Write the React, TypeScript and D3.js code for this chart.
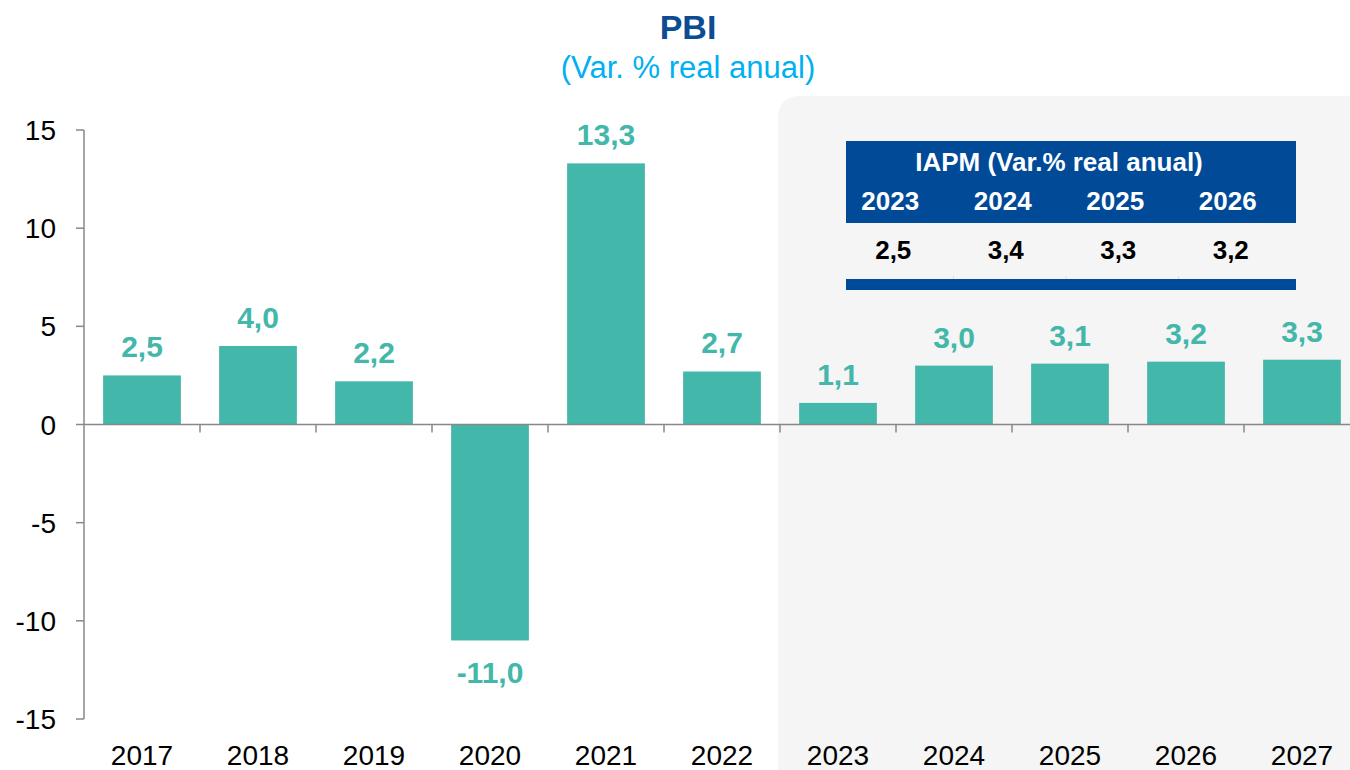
import React from "react";
import * as d3 from "d3";

const years = ["2017", "2018", "2019", "2020", "2021", "2022", "2023", "2024", "2025", "2026", "2027"];
const values = [2.5, 4.0, 2.2, -11.0, 13.3, 2.7, 1.1, 3.0, 3.1, 3.2, 3.3];
const yTicks = [15, 10, 5, 0, -5, -10, -15];
const tableYears = ["2023", "2024", "2025", "2026"];
const tableValues = [2.5, 3.4, 3.3, 3.2];
const forecastStart = "2023";

const W = 1350;
const H = 770;
const FONT = "'Liberation Sans', Arial, sans-serif";
const BAR = "#43B7AA";
const BLUE = "#004A98";

const fmt = (v: number) => v.toFixed(1).replace(".", ",");

export default function App() {
  const x = d3.scaleBand<string>().domain(years).range([84, 84 + 116 * 11]).paddingInner(0.33).paddingOuter(0.165);
  const y = d3.scaleLinear().domain([-15, 15]).range([719, 130]);
  const step = x.step();
  const bandStart = (c: string) => 84 + years.indexOf(c) * step;

  const tx = d3.scaleBand<string>().domain(tableYears).range([846, 1296]);

  const shadeX = bandStart(forecastStart) - 2;

  return (
    <svg width={W} height={H} style={{ position: "absolute", left: 0, top: 0, fontFamily: FONT }}>
      <rect x={0} y={0} width={W} height={H} fill="#fff" />
      {/* shaded forecast area */}
      <rect x={shadeX} y={96} width={W - shadeX + 20} height={H - 96 + 20} rx={20} ry={20} fill="#F5F5F5" />

      {/* title */}
      <text x={688} y={39} textAnchor="middle" fontSize={34} fontWeight="bold" fill="#0B4C93">PBI</text>
      <text x={688} y={78} textAnchor="middle" fontSize={31} fill="#00B0F0">(Var. % real anual)</text>

      {/* bars */}
      {years.map((c, i) => {
        const v = values[i];
        const y0 = y(0);
        const yv = y(v);
        return (
          <g key={c}>
            <rect x={x(c)} y={Math.min(y0, yv)} width={x.bandwidth()} height={Math.abs(yv - y0)} fill={BAR} />
            <text
              x={(x(c) as number) + x.bandwidth() / 2}
              y={v >= 0 ? yv - 18 : yv + 43}
              textAnchor="middle"
              fontSize={30}
              fontWeight="bold"
              fill={BAR}
            >
              {fmt(v)}
            </text>
          </g>
        );
      })}

      {/* y axis */}
      <line x1={84} x2={84} y1={y(15)} y2={y(-15)} stroke="#888" strokeWidth={1.5} />
      {yTicks.map((t) => (
        <g key={t}>
          <line x1={76} x2={84} y1={y(t)} y2={y(t)} stroke="#888" strokeWidth={1.5} />
          <text x={56} y={y(t) + 10} textAnchor="end" fontSize={28} fill="#000">{t}</text>
        </g>
      ))}

      {/* x axis at zero */}
      <line x1={84} x2={W} y1={y(0)} y2={y(0)} stroke="#888" strokeWidth={1.5} />
      {years.map((c, i) =>
        i > 0 ? (
          <line key={"t" + c} x1={bandStart(c)} x2={bandStart(c)} y1={y(0)} y2={y(0) + 8} stroke="#888" strokeWidth={1.5} />
        ) : null
      )}
      {years.map((c) => (
        <text key={"l" + c} x={(x(c) as number) + x.bandwidth() / 2} y={765} textAnchor="middle" fontSize={28} fill="#000">
          {c}
        </text>
      ))}

      {/* IAPM table */}
      <rect x={846} y={141} width={450} height={82} fill={BLUE} />
      <text x={1059} y={171} textAnchor="middle" fontSize={26} fontWeight="bold" fill="#fff">IAPM (Var.% real anual)</text>
      {tableYears.map((c) => (
        <text key={"ty" + c} x={(tx(c) as number) + tx.bandwidth() / 2 - 12} y={210} textAnchor="middle" fontSize={26} fontWeight="bold" fill="#fff">
          {c}
        </text>
      ))}
      {tableYears.map((c, i) => (
        <text key={"tv" + c} x={(tx(c) as number) + tx.bandwidth() / 2 - 9} y={259} textAnchor="middle" fontSize={26} fontWeight="bold" fill="#000">
          {fmt(tableValues[i])}
        </text>
      ))}
      {tableYears.map((c, i) =>
        i > 0 ? (
          <line key={"sep" + c} x1={(tx(c) as number) - 5} x2={(tx(c) as number) - 5} y1={276} y2={279} stroke="#ddd" strokeWidth={1} />
        ) : null
      )}
      <rect x={846} y={279} width={450} height={11} fill={BLUE} />
    </svg>
  );
}
